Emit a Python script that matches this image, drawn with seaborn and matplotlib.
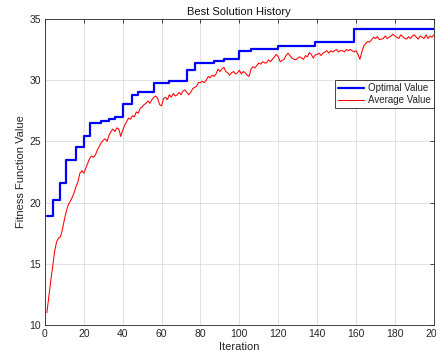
import numpy as np
import pandas as pd
import matplotlib
matplotlib.use('Agg')
import matplotlib.pyplot as plt
import seaborn as sns

# optimal value: step changes (iteration where a new best appears, value)
best_iter = [1, 4, 8, 11, 16, 20, 23, 29, 33, 36, 40, 45, 48, 56, 64, 73, 77,
             87, 92, 100, 106, 120, 139, 159, 200]
best_val = [18.9, 20.2, 21.6, 23.5, 24.5, 25.4, 26.5, 26.7, 26.85, 27.0, 28.05,
            28.75, 29.05, 29.75, 29.9, 30.85, 31.4, 31.6, 31.75, 32.4, 32.55,
            32.8, 33.1, 34.15, 34.15]

# average value per iteration (1..200)
avg_val = [
    11.0, 12.3, 13.6, 14.8, 16.0, 16.8, 17.1, 17.2, 17.8, 18.6,
    19.3, 19.8, 20.1, 20.4, 20.8, 21.3, 21.7, 22.4, 22.6, 22.4,
    22.8, 23.2, 23.6, 23.8, 23.7, 23.9, 24.3, 24.6, 24.9, 25.1,
    25.2, 25.0, 25.5, 25.8, 26.0, 25.8, 26.1, 26.0, 25.4, 25.9,
    26.3, 26.6, 26.9, 26.8, 27.1, 27.0, 27.4, 27.3, 27.7, 27.8,
    28.0, 28.1, 28.3, 28.1, 28.4, 28.6, 28.7, 28.5, 28.0, 27.9,
    28.5, 28.6, 28.4, 28.8, 28.6, 28.9, 28.7, 28.8, 29.0, 28.8,
    29.1, 29.2, 29.0, 28.8, 29.0, 29.3, 29.4, 29.5, 29.8, 29.8,
    29.9, 29.8, 30.0, 30.3, 30.2, 30.4, 30.3, 30.5, 30.9, 30.7,
    30.9, 31.05, 30.7, 30.6, 30.4, 30.6, 30.7, 30.5, 30.6, 30.8,
    30.5, 30.7, 30.6, 30.4, 30.3, 30.9, 31.1, 31.0, 31.2, 31.4,
    31.3, 31.5, 31.4, 31.4, 31.65, 31.5, 31.7, 31.9, 32.1, 31.9,
    31.5, 31.6, 31.7, 32.0, 32.2, 32.0, 31.8, 31.7, 31.65, 31.8,
    31.9, 31.8, 31.7, 32.0, 31.9, 32.25, 32.1, 31.8, 32.05, 32.1,
    32.2, 32.0, 32.2, 32.3, 32.4, 32.2, 32.4, 32.3, 32.4, 32.5,
    32.3, 32.4, 32.4, 32.3, 32.5, 32.4, 32.5, 32.4, 32.3, 32.4,
    32.1, 31.7, 32.3, 32.8, 33.0, 33.15, 33.1, 33.3, 33.5, 33.4,
    33.55, 33.3, 33.35, 33.4, 33.6, 33.4, 33.5, 33.6, 33.75, 33.6,
    33.5, 33.4, 33.7, 33.55, 33.4, 33.35, 33.55, 33.4, 33.6, 33.7,
    33.5, 33.35, 33.6, 33.5, 33.4, 33.7, 33.4, 33.6, 33.5, 33.7,
]
iterations = list(range(1, len(avg_val) + 1))

sns.set_style('white')
plt.rcParams['font.family'] = ['Liberation Sans', 'DejaVu Sans']

fig = plt.figure(figsize=(4.36, 3.56), dpi=100)
ax = fig.add_axes([0.103, 0.087, 0.892, 0.860])

df_best = pd.DataFrame({'Iteration': best_iter, 'Value': best_val})
df_avg = pd.DataFrame({'Iteration': iterations, 'Value': avg_val})

sns.lineplot(data=df_best, x='Iteration', y='Value', ax=ax, color='#0000ff',
             linewidth=1.6, drawstyle='steps-post', label='Optimal Value')
sns.lineplot(data=df_avg, x='Iteration', y='Value', ax=ax, color='#ff0000',
             linewidth=0.75, label='Average Value')

ax.set_xlim(0, 200)
ax.set_ylim(10, 35)
ax.set_xticks(np.arange(0, 201, 20))
ax.set_yticks(np.arange(10, 36, 5))
ax.grid(True, color='#dcdcdc', linewidth=0.6)
ax.tick_params(direction='in', length=3, width=0.6, labelsize=7.5,
               top=True, right=True, colors='#262626', pad=3)
for s in ax.spines.values():
    s.set_color('#262626')
    s.set_linewidth(0.6)

ax.set_title('Best Solution History', fontsize=8, pad=3, color='#111111')
ax.set_xlabel('Iteration', fontsize=8, labelpad=2, color='#262626')
ax.set_ylabel('Fitness Function Value', fontsize=8, labelpad=2, color='#262626')

leg = ax.legend(loc='upper right', bbox_to_anchor=(1.0, 0.80), fontsize=7,
                frameon=True, fancybox=False, framealpha=1, edgecolor='#262626',
                handlelength=2.7, borderpad=0.3, labelspacing=0.2, handletextpad=0.4,
                borderaxespad=0)
leg.get_frame().set_linewidth(0.6)

fig.savefig('out.png', dpi=100)
